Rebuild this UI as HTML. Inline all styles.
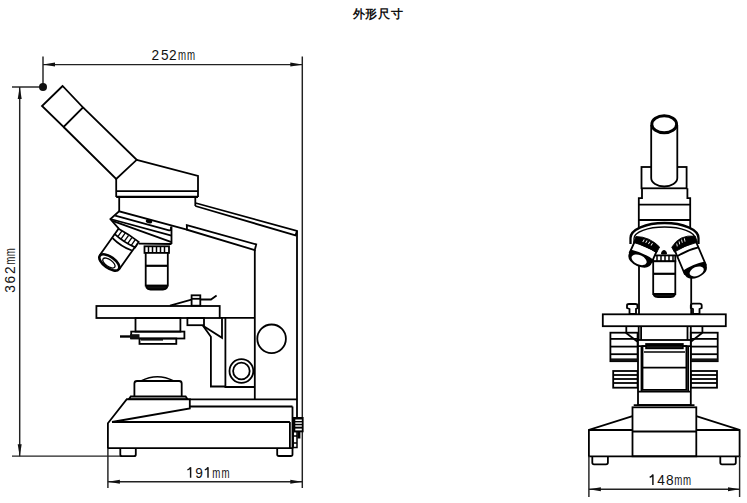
<!DOCTYPE html>
<html><head><meta charset="utf-8">
<style>
html,body{margin:0;padding:0;background:#fff;}
body{width:747px;height:503px;overflow:hidden;position:relative;}
svg{position:absolute;left:0;top:0;}
.t{font-family:"Liberation Sans",sans-serif;}
</style></head><body>
<svg width="747" height="503" viewBox="0 0 747 503">
<defs>
<marker id="ar" viewBox="0 0 12 6" refX="12" refY="3" markerWidth="12" markerHeight="6" markerUnits="userSpaceOnUse" orient="auto-start-reverse"><path d="M0,1 L12,3 L0,5 z" fill="#111"/></marker>
</defs>
<!-- title -->
<text x="352.5" y="17.6" class="t" font-size="12" font-weight="bold" letter-spacing="0.9" fill="#111">外形尺寸</text>

<!-- ============ DIMENSIONS LEFT ============ -->
<g stroke="#222" stroke-width="1.45" fill="none">
  <line x1="43" y1="64.6" x2="302.3" y2="64.6" marker-start="url(#ar)" marker-end="url(#ar)"/>
  <line x1="43" y1="56.5" x2="43" y2="87"/>
  <line x1="302.3" y1="56.5" x2="302.3" y2="488"/>
  <line x1="12" y1="87" x2="43" y2="87"/>
  <line x1="19.7" y1="87" x2="19.7" y2="456.2" marker-start="url(#ar)" marker-end="url(#ar)"/>
  <line x1="12" y1="456.1" x2="121" y2="456.1"/>
  <line x1="107.9" y1="448" x2="107.9" y2="488"/>
  <line x1="107.9" y1="481.8" x2="302.3" y2="481.8" marker-start="url(#ar)" marker-end="url(#ar)"/>
</g>
<circle cx="43" cy="87" r="4" fill="#111"/>
<!--TEXTS-->
<g class="t" fill="#111">
<text transform="translate(151.51,59.7) scale(0.9,1)" font-size="15.2">2</text><text transform="translate(161.05,59.7) scale(0.9,1)" font-size="15.2">5</text><text transform="translate(168.91,59.7) scale(0.9,1)" font-size="15.2">2</text><text transform="translate(178.06,59.7) scale(0.634,1)" font-size="15.3">m</text><text transform="translate(187.06,59.7) scale(0.634,1)" font-size="15.3">m</text>
<path d="M187.40,469.90 Q189.60,469.30 190.60,467.30 V477.7" fill="none" stroke="#111" stroke-width="1.45"/><text transform="translate(195.36,477.7) scale(0.9,1)" font-size="15.2">9</text><path d="M204.80,469.90 Q207.00,469.30 208.00,467.30 V477.7" fill="none" stroke="#111" stroke-width="1.45"/><text transform="translate(212.36,477.7) scale(0.634,1)" font-size="15.3">m</text><text transform="translate(221.46,477.7) scale(0.634,1)" font-size="15.3">m</text>
<path d="M649.70,477.20 Q651.90,476.60 652.90,474.60 V485" fill="none" stroke="#111" stroke-width="1.45"/><text transform="translate(657.29,485) scale(0.9,1)" font-size="15.2">4</text><text transform="translate(666.11,485) scale(0.9,1)" font-size="15.2">8</text><text transform="translate(674.36,485) scale(0.634,1)" font-size="15.3">m</text><text transform="translate(683.06,485) scale(0.634,1)" font-size="15.3">m</text>
<g transform="translate(15.4,292.7) rotate(-90)"><text transform="translate(-0.12,0) scale(0.9,1)" font-size="15.2">3</text><text transform="translate(9.11,0) scale(0.9,1)" font-size="15.2">6</text><text transform="translate(18.61,0) scale(0.9,1)" font-size="15.2">2</text><text transform="translate(28.06,0) scale(0.634,1)" font-size="15.3">m</text><text transform="translate(36.56,0) scale(0.634,1)" font-size="15.3">m</text></g>
</g>
<!--/TEXTS-->

<!-- ============ LEFT MICROSCOPE ============ -->
<g stroke="#000" stroke-width="1.8" fill="none" stroke-linejoin="miter">
  <!-- eyepiece cap + tube -->
  <polygon points="62.6,86 42,106 63.6,127 83,107.4"/>
  <polyline points="63.6,127 116.2,179 136.7,159.8 83,107.4"/>
  <!-- head -->
  <polyline points="136.7,159.8 198,176 198,197"/>
  <line x1="116.2" y1="179" x2="116.2" y2="197"/>
  <line x1="116.2" y1="191.2" x2="198" y2="191.2"/>
  <line x1="116.2" y1="196.9" x2="198" y2="196.9" stroke-width="2.2"/>
  <!-- neck -->
  <line x1="119.2" y1="197" x2="119.2" y2="211.6"/>
  <line x1="195.3" y1="197" x2="195.3" y2="206"/>
  <!-- arm outer strip -->
  <polyline points="195.5,203 297,231 297,417"/>
  <polyline points="195.3,206 295.5,235.4 297,231"/>
  <!-- arm lower strip -->
  <polygon points="186.8,225.1 256.2,244.4 254.8,250 187,229.7"/>
  <line x1="254.8" y1="250" x2="254.8" y2="399.4"/>
  <!-- nosepiece -->
  <polyline points="186.9,229.7 119.1,211.3 110.4,219 119,228.8"/>
  <path d="M115.2,215.7 L169,230.3 Q171,230.6 171,228.5 V226.8"/>
  <line x1="110.4" y1="219" x2="171.5" y2="235.6"/>
  <line x1="112.5" y1="220.8" x2="171.5" y2="242.2"/>
  <ellipse cx="149" cy="221.4" rx="2.4" ry="1.1" transform="rotate(16 149 221.4)" fill="#000"/>
  <line x1="171.5" y1="226.5" x2="171.5" y2="244"/>
  <line x1="138.7" y1="243.6" x2="171.5" y2="244"/>
</g>
<!-- tilted objective -->
<g transform="translate(128.6,235.3) rotate(35.4)" stroke="#000" stroke-width="1.8" fill="#fff">
  <path d="M-12,7 V33 M12,3 V33" fill="none"/>
  <path d="M-11.5,11.5 Q0,13.5 11.5,10.5" fill="none"/>
  <path d="M-12,0.5 Q0,-1 12,-0.5 L12.3,6 Q0,8.5 -12,7 Z"/>
  <g stroke-width="1.3"><line x1="-8" y1="0.5" x2="-8" y2="7"/><line x1="-4" y1="0" x2="-4" y2="7.3"/><line x1="0" y1="0" x2="0" y2="7.5"/><line x1="4" y1="0" x2="4" y2="7.3"/><line x1="8" y1="0" x2="8" y2="7"/></g>
  <ellipse cx="0" cy="33.3" rx="11.6" ry="5.6" fill="#fff" stroke-width="2.6"/>
  <ellipse cx="0" cy="34" rx="7.2" ry="3.4" stroke-width="1.3"/>
</g>
<!-- vertical objective -->
<g stroke="#000" stroke-width="1.8" fill="#fff">
  <rect x="144.5" y="246.3" width="24.5" height="6.6"/>
  <g stroke-width="1.5"><line x1="148.5" y1="246.5" x2="148.5" y2="252.5"/><line x1="152.5" y1="246.5" x2="152.5" y2="252.5"/><line x1="156.5" y1="246.5" x2="156.5" y2="252.5"/><line x1="160.5" y1="246.5" x2="160.5" y2="252.5"/><line x1="164.5" y1="246.5" x2="164.5" y2="252.5"/></g>
  <rect x="145.7" y="252.9" width="22.1" height="32.8"/>
  <line x1="145.7" y1="265.8" x2="167.8" y2="265.8" stroke-width="2.2"/>
  <path d="M146.5,285.7 H167 V287.5 Q166,289.5 163,289.5 H150.5 Q147.5,289.5 146.5,287.5 Z" fill="#111"/>
</g>
<!-- stage & condenser -->
<g stroke="#000" stroke-width="1.8" fill="none">
  <rect x="96.4" y="306" width="123.3" height="12"/>
  <line x1="219.7" y1="317.9" x2="254.8" y2="317.9"/>
  <rect x="135.5" y="318" width="44.9" height="13.6"/>
  <rect x="131.2" y="331.6" width="53.2" height="6.9"/>
  <rect x="139.5" y="338.5" width="36.8" height="5.4"/>
  <line x1="120" y1="336.5" x2="131" y2="336.5" stroke-width="2.4"/>
  <polyline points="170,305.7 192.3,299.5 211,299.5 216.6,295.6"/>
  <rect x="191.6" y="295.3" width="8.7" height="10.4" fill="#fff"/>
  <line x1="191.6" y1="298.8" x2="200.3" y2="298.8"/>
  <rect x="187.4" y="318" width="16.6" height="7.2"/>
  <polyline points="203,325.8 222,337.8 222,318"/>
  <polyline points="203,325.8 210.9,336.8 210.9,386.5 225.4,386.5"/>
  <polyline points="225.4,318 225.4,387 254.8,387"/>
  <circle cx="241.4" cy="371" r="11.9"/>
  <circle cx="241.4" cy="371" r="8.3"/>
  <circle cx="271.6" cy="338.8" r="14.3"/>
</g>
<rect x="130" y="334.2" width="9.5" height="4.6" fill="#111"/>
<rect x="141" y="338.6" width="22" height="2" fill="#111"/>
<!-- base -->
<g stroke="#000" stroke-width="1.8" fill="none">
  <path d="M141,381 Q157.4,372.5 173.7,381" stroke-width="1.6"/>
  <path d="M134.4,396.5 V383.5 Q134.4,381 137,381 H179.1 Q181.7,381 181.7,383.5 V396.5"/>
  <polygon points="128.8,399.3 130.8,396.5 185.6,396.5 187.6,399.3"/>
  <polyline points="107.9,448.2 107.9,423.2 126.8,399.2 189.8,399.2 189.8,408.4 112,422"/>
  <line x1="189.8" y1="399.3" x2="297" y2="399.3"/>
  <line x1="189.8" y1="406.5" x2="292.5" y2="406.5"/>
  <line x1="112" y1="422" x2="289.9" y2="422"/>
  <polyline points="292.5,406.5 292.5,448.2 107.9,448.2"/>
  <line x1="289.9" y1="422" x2="289.9" y2="448.2"/>
  <path d="M120.3,448.2 V454.5 Q120.3,456.2 122,456.2 H134 Q135.8,456.2 135.8,454.5 V448.2"/>
  <path d="M277.2,448.2 V454.5 Q277.2,456 279,456 H290.8 Q292.5,456 292.5,454.5 V448.2"/>
  <!-- fine focus -->
  <rect x="293.2" y="431.5" width="3.8" height="16" stroke-width="1.5"/>
  <line x1="293.2" y1="436" x2="297" y2="436" stroke-width="1.5"/>
  <line x1="293.2" y1="443" x2="297" y2="443" stroke-width="1.5"/>
</g>
<rect x="293" y="417" width="10.6" height="15.3" fill="#000"/>
<g fill="#fff"><rect x="295.3" y="419.5" width="6.5" height="1.5"/><rect x="295.3" y="422.4" width="6.5" height="1.4"/><rect x="295.3" y="425.3" width="6.5" height="1.4"/><rect x="295.3" y="428.6" width="6.5" height="1.8"/></g>
<rect x="297.4" y="432" width="3" height="6.5" fill="#000"/>

<!-- ============ RIGHT MICROSCOPE ============ -->
<g stroke="#000" stroke-width="1.8" fill="none">
  <rect x="641.5" y="167" width="45.1" height="21.3"/>
  <path d="M651.2,125 V178 A13.05,8.5 0 0 0 677.3,178 V125" fill="#fff"/>
  <ellipse cx="664.2" cy="124.3" rx="12.4" ry="8.5" stroke-width="2.9" fill="#fff"/>
  <polyline points="642,188.3 642,198.1 638.8,198.1 638.8,228"/>
  <polyline points="687.4,188.3 687.4,198.1 690.2,198.1 690.2,228"/>
  <line x1="638.8" y1="204.7" x2="690.2" y2="204.7"/>
  <line x1="638.8" y1="220" x2="690.2" y2="220"/>
  <!-- nosepiece arcs -->
  <path d="M630.5,244 V238 A34,15 0 0 1 698.5,238 V244" stroke-width="2.3"/>
  <path d="M634,244 V238.5 A30.5,11.5 0 0 1 695,238.5 V244" stroke-width="1.3"/>
  <!-- pillars -->
  <line x1="639" y1="262" x2="639" y2="314"/>
  <line x1="691.2" y1="272" x2="691.2" y2="314"/>
</g>
<!-- center objective -->
<g stroke="#000" stroke-width="1.8" fill="#fff">
  <path d="M661.5,254 Q661.5,250.5 664,250.5 Q666.5,250.5 666.5,254 Z" fill="#000" stroke-width="1"/>
  <rect x="653.2" y="255.4" width="22.1" height="5.9"/>
  <g stroke-width="1.5"><line x1="657" y1="255.6" x2="657" y2="261"/><line x1="661" y1="255.6" x2="661" y2="261"/><line x1="665" y1="255.6" x2="665" y2="261"/><line x1="669" y1="255.6" x2="669" y2="261"/><line x1="673" y1="255.6" x2="673" y2="261"/></g>
  <rect x="653.2" y="261.3" width="22.1" height="32.8"/>
  <line x1="653.2" y1="273.8" x2="675.3" y2="273.8" stroke-width="2.2"/>
  <path d="M654,294 H674.5 V295.5 Q673.5,297.2 670.5,297.2 H658 Q655,297.2 654,295.5 Z" fill="#111"/>
</g>
<!-- left front objective -->
<g transform="translate(646.5,244.5) rotate(24)" stroke="#000" stroke-width="1.8" fill="#fff">
  <path d="M-12,2 V14 H12 V2 Z"/>
  <path d="M-13,-3 Q0,-8.5 13,-3 L12.5,3.5 Q0,1 -12.5,3.5 Z" fill="#000" stroke-width="0.8"/>
  <g stroke="#fff" stroke-width="0.9"><line x1="-4" y1="-3.6" x2="-4.5" y2="-0.8"/><line x1="-1" y1="-4" x2="-1.5" y2="-1.2"/><line x1="2" y1="-4" x2="1.5" y2="-1.2"/><line x1="5" y1="-3.6" x2="4.5" y2="-0.8"/></g>
  <path d="M-12.5,11 Q0,8.5 12.5,11 L12.5,14 Q13,23 0,23.5 Q-13,23 -12.5,14 Z" fill="#000" stroke="none"/>
  <ellipse cx="-0.5" cy="17" rx="8" ry="4.6" fill="#fff" stroke="none"/>
</g>
<!-- right front objective -->
<g transform="translate(684.5,244) rotate(-23)" stroke="#000" stroke-width="1.8" fill="#fff">
  <path d="M-11.5,2 V27.5 H11.5 V2 Z"/>
  <path d="M-11.5,8.5 Q0,6.5 11.5,8.5" fill="none"/>
  <path d="M-13,-2 Q-1,-11 13,-3 L12.5,3.5 Q0,1 -12.5,3.5 Z" fill="#000" stroke-width="0.8"/>
  <g stroke="#fff" stroke-width="0.9"><line x1="-7" y1="-3.5" x2="-7.5" y2="-0.7"/><line x1="-4" y1="-4.6" x2="-4.5" y2="-1.6"/><line x1="-1" y1="-5.2" x2="-1.5" y2="-2"/><line x1="2" y1="-5.2" x2="1.5" y2="-2"/></g>
  <path d="M-12,24 Q0,21.5 12,24 L12,26.5 Q12.5,35.5 0,36 Q-12.5,35.5 -12,26.5 Z" fill="#000" stroke="none"/>
  <ellipse cx="0.5" cy="30" rx="7.5" ry="4.4" fill="#fff" stroke="none"/>
</g>
<!-- stage & focus front -->
<g stroke="#000" stroke-width="1.8" fill="none">
  <rect x="602.8" y="314.3" width="123" height="11.9" fill="#fff"/>
  <path d="M627,305.5 Q627,304 629,304 H635.5 Q637.4,304 637.4,305.5 V308 L636,309 V314 H629.5 V309 L627,308 Z"/>
  <path d="M690.8,305.5 Q690.8,303.6 693,303.6 H699.7 Q701.7,303.6 701.7,305.5 V308 L699.5,309 V314 H693 V309 L690.8,308 Z"/>
  <line x1="626.3" y1="326" x2="626.3" y2="332.6"/>
  <line x1="638.7" y1="326" x2="638.7" y2="341.7"/>
  <line x1="641.1" y1="326" x2="641.1" y2="341.7"/>
  <line x1="687.5" y1="326" x2="687.5" y2="341.7"/>
  <line x1="690.8" y1="326" x2="690.8" y2="341.7"/>
  <line x1="702.4" y1="326" x2="702.4" y2="332.6"/>
  <!-- coarse knobs -->
  <rect x="610.4" y="332.7" width="27.2" height="28.5"/>
  <line x1="610.4" y1="338.9" x2="637.6" y2="338.9"/>
  <line x1="610.4" y1="346.6" x2="637.6" y2="346.6"/>
  <line x1="610.4" y1="354.2" x2="637.6" y2="354.2"/>
  <line x1="625.8" y1="332.7" x2="637.6" y2="341.7"/>
  <rect x="690.8" y="332.7" width="26.9" height="28.5"/>
  <line x1="690.8" y1="338.9" x2="717.7" y2="338.9"/>
  <line x1="690.8" y1="346.6" x2="717.7" y2="346.6"/>
  <line x1="690.8" y1="354.2" x2="717.7" y2="354.2"/>
  <line x1="702.4" y1="332.7" x2="690.8" y2="341.7"/>
  <!-- fine knobs -->
  <rect x="613.2" y="371" width="24.4" height="16.7"/>
  <line x1="613.2" y1="375" x2="637.6" y2="375"/>
  <line x1="613.2" y1="379" x2="637.6" y2="379"/>
  <line x1="613.2" y1="383" x2="637.6" y2="383"/>
  <rect x="690.8" y="371" width="26.2" height="16.7"/>
  <line x1="690.8" y1="375" x2="717" y2="375"/>
  <line x1="690.8" y1="379" x2="717" y2="379"/>
  <line x1="690.8" y1="383" x2="717" y2="383"/>
  <!-- column box -->
  <rect x="638" y="340" width="52.8" height="65" fill="#fff"/>
  <line x1="641.5" y1="346.1" x2="641.5" y2="392"/>
  <line x1="688.1" y1="346.1" x2="688.1" y2="392"/>
  <line x1="638" y1="346.1" x2="690.8" y2="346.1"/>
  <rect x="642.5" y="346.1" width="43.9" height="43.8"/>
  <line x1="644" y1="352.1" x2="685" y2="352.1" stroke-width="1.5"/>
  <line x1="642.5" y1="367.6" x2="686.4" y2="367.6"/>
  <line x1="638" y1="391.7" x2="690.8" y2="391.7"/>
  <!-- base -->
  <polyline points="633.7,405.1 694.5,405.1"/>
  <rect x="632.5" y="407.3" width="63.8" height="49" fill="#fff"/>
  <line x1="632.5" y1="431.5" x2="696.3" y2="431.5"/>
  <polyline points="632.5,416.2 588.9,430 588.9,456.3 739.6,456.3 739.6,430 696.3,416.2"/>
  <line x1="588.9" y1="430" x2="632.5" y2="430"/>
  <line x1="696.3" y1="430" x2="739.6" y2="430"/>
  <path d="M592.3,456.3 V462.5 Q592.3,464.4 594,464.4 H606 Q607.9,464.4 607.9,462.5 V456.3"/>
  <path d="M720.3,456.3 V462.5 Q720.3,464.4 722,464.4 H734 Q735.8,464.4 735.8,462.5 V456.3"/>
</g>
<rect x="645.2" y="343.1" width="38.5" height="6.1" fill="#000"/><line x1="647" y1="347" x2="682" y2="347" stroke="#333" stroke-width="0.8"/>
<rect x="611" y="358.4" width="26.6" height="3" fill="#111"/>
<rect x="691.4" y="358.4" width="26.3" height="3" fill="#111"/>
<g stroke="#222" stroke-width="1.45" fill="none">
  <line x1="588.9" y1="456" x2="588.9" y2="497"/>
  <line x1="739.6" y1="456" x2="739.6" y2="497"/>
  <line x1="588.9" y1="489.3" x2="739.6" y2="489.3" marker-start="url(#ar)" marker-end="url(#ar)"/>
</g>
</svg>
</body></html>
